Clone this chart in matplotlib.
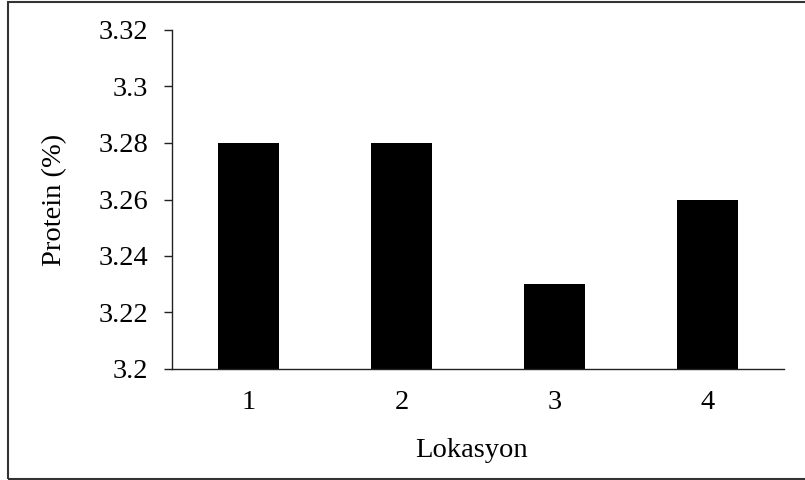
import matplotlib
matplotlib.use('Agg')
import matplotlib.pyplot as plt
from matplotlib.patches import Rectangle
from matplotlib.ticker import FuncFormatter

# Protein content per location
lokasyon = ['1', '2', '3', '4']
protein = [3.28, 3.28, 3.23, 3.26]
y_ticks = [3.2, 3.22, 3.24, 3.26, 3.28, 3.3, 3.32]

plt.rcParams['font.family'] = 'Liberation Serif'
plt.rcParams['font.size'] = 20.5

fig = plt.figure(figsize=(8.05, 4.80), dpi=100)
ax = fig.add_axes([172 / 805, 1 - 369 / 480, 612 / 805, 339 / 480])

x = list(range(1, len(lokasyon) + 1))
ax.bar(x, protein, width=0.4, color='black')

ax.set_xlim(0.5, len(lokasyon) + 0.5)
ax.set_ylim(3.2, 3.32)
ax.set_xticks(x)
ax.set_xticklabels(lokasyon)
ax.set_yticks(y_ticks)
ax.yaxis.set_major_formatter(FuncFormatter(lambda v, p: '%g' % round(v, 2)))

for s in ['top', 'right']:
    ax.spines[s].set_visible(False)
for s in ['left', 'bottom']:
    ax.spines[s].set_linewidth(1.0)
    ax.spines[s].set_color('#222222')

ax.tick_params(axis='y', direction='out', length=6, width=1.0, pad=11, color='#222222')
ax.tick_params(axis='x', length=0, pad=15)

ax.set_ylabel('Protein (%)')
ax.yaxis.set_label_coords(-0.171, 0.5)
ax.set_xlabel('Lokasyon')
ax.xaxis.set_label_coords(0.49, -0.203)

# outer frame around the chart area
fig.patches.append(Rectangle((8 / 805, 1.5 / 480), 1.2, 1 - 3 / 480, transform=fig.transFigure,
                             fill=False, edgecolor='#333333', linewidth=1.5))

fig.savefig('out.png', dpi=100)
